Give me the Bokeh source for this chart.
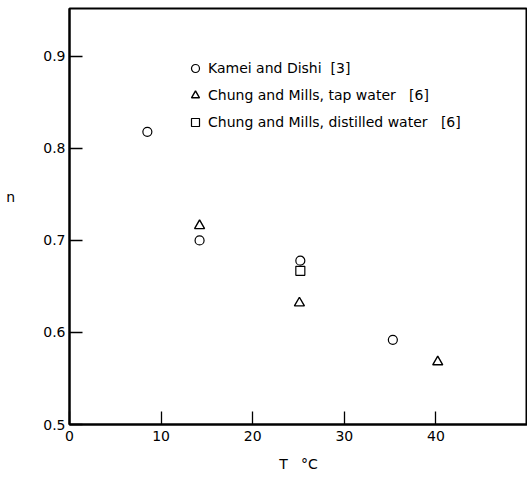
from bokeh.plotting import figure
from bokeh.models import Range1d, LinearAxis, FixedTicker, Legend, LegendItem
from bokeh.embed import file_html
from bokeh.resources import INLINE

# Kamei and Dishi [3]
kd_T = [8.5, 14.2, 25.2, 35.3]
kd_n = [0.818, 0.700, 0.678, 0.592]
# Chung and Mills, tap water [6]
tap_T = [14.2, 25.1, 40.2]
tap_n = [0.716, 0.632, 0.568]
# Chung and Mills, distilled water [6]
dist_T = [25.2]
dist_n = [0.667]

x_ticks = [0, 10, 20, 30, 40]
y_ticks = [0.5, 0.6, 0.7, 0.8, 0.9]

FONT = "DejaVu Sans"

p = figure(width=527, height=480, output_backend="svg", toolbar_location=None,
           x_range=Range1d(0, 50), y_range=Range1d(0.5, 0.952),
           min_border_top=8, min_border_right=0, min_border_left=69,
           min_border_bottom=56, x_axis_location=None, y_axis_location=None)
p.outline_line_color = "black"
p.outline_line_width = 2
p.outline_line_alpha = 1.0
p.grid.visible = False
p.background_fill_color = "white"

xa = LinearAxis(ticker=FixedTicker(ticks=x_ticks), axis_label="T\u00a0\u00a0\u00a0\u00b0C")
ya = LinearAxis(ticker=FixedTicker(ticks=y_ticks), axis_label="n\n\u00a0\n\u00a0")
for ax in (xa, ya):
    ax.axis_line_width = 2
    ax.axis_line_color = "black"
    ax.major_tick_in = 13
    ax.major_tick_out = 0
    ax.major_tick_line_width = 1.3
    ax.major_tick_line_color = "black"
    ax.minor_tick_line_color = None
    ax.major_label_text_font = FONT
    ax.major_label_text_font_size = "14px"
    ax.major_label_text_color = "black"
    ax.axis_label_text_font = FONT
    ax.axis_label_text_font_size = "14px"
    ax.axis_label_text_font_style = "normal"
    ax.axis_label_text_color = "black"
xa.major_label_standoff = 6
xa.axis_label_standoff = 12
ya.major_label_standoff = 4
ya.axis_label_orientation = "horizontal"
ya.axis_label_standoff = 25
p.add_layout(xa, "below")
p.add_layout(ya, "left")

r1 = p.scatter(kd_T, kd_n, marker="circle", size=9, fill_color=None,
               line_color="black", line_width=1.2)
r2 = p.scatter(tap_T, tap_n, marker="triangle", size=10, fill_color=None,
               line_color="black", line_width=1.4)
r3 = p.scatter(dist_T, dist_n, marker="square", size=9, fill_color=None,
               line_color="black", line_width=1.2)

legend = Legend(items=[
    LegendItem(label="Kamei and Dishi  [3]", renderers=[r1]),
    LegendItem(label="Chung and Mills, tap water   [6]", renderers=[r2]),
    LegendItem(label="Chung and Mills, distilled water   [6]", renderers=[r3]),
], location=(116, 292))
legend.border_line_color = None
legend.background_fill_alpha = 0
legend.padding = 0
legend.margin = 0
legend.spacing = 7
legend.glyph_width = 20
legend.glyph_height = 20
legend.label_standoff = 3
legend.label_text_font = FONT
legend.label_text_font_size = "14px"
legend.label_text_color = "black"
p.add_layout(legend, "center")

open("out.html", "w").write(file_html(p, INLINE))
